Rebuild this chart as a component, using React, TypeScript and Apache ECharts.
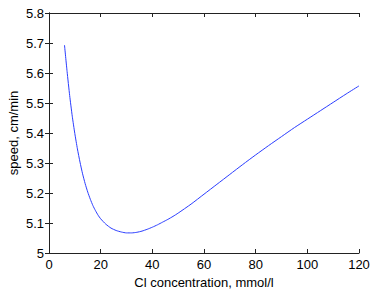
import React, { useEffect, useRef } from "react";
import * as echarts from "echarts";

const xValues = [6, 7, 8, 9, 10, 11, 12, 13, 14, 15, 16, 17, 18, 19, 20, 22, 24, 26, 28, 30, 32, 34, 36, 38, 40, 42, 44, 46, 48, 50, 55, 60, 65, 70, 75, 80, 85, 90, 95, 100, 105, 110, 115, 120];
const speedValues = [5.693, 5.605, 5.525, 5.456, 5.398, 5.347, 5.303, 5.264, 5.231, 5.203, 5.179, 5.158, 5.141, 5.126, 5.114, 5.096, 5.083, 5.075, 5.07, 5.067, 5.067, 5.069, 5.073, 5.079, 5.086, 5.094, 5.103, 5.112, 5.122, 5.133, 5.163, 5.196, 5.229, 5.262, 5.295, 5.327, 5.358, 5.388, 5.418, 5.446, 5.474, 5.502, 5.53, 5.557];
const xTitle = "Cl concentration, mmol/l";
const yTitle = "speed, cm/min";

const FONT = "Liberation Sans, Arial, Helvetica, sans-serif";
const AX = "#222";

export default function App() {
  const ref = useRef<HTMLDivElement>(null);
  useEffect(() => {
    if (!ref.current) return;
    const chart = echarts.init(ref.current, null, { renderer: "svg" });
    const tickCommon = {
      axisLine: { show: true, lineStyle: { color: AX, width: 1 } },
      axisTick: { show: true, inside: true, length: 4, lineStyle: { color: AX } },
      splitLine: { show: false },
    };
    chart.setOption({
      animation: false,
      backgroundColor: "#fff",
      grid: { left: 49, top: 13, right: 18, bottom: 38, containLabel: false, outerBoundsMode: "none" },
      xAxis: [
        {
          type: "value", min: 0, max: 120, interval: 20, position: "bottom",
          ...tickCommon,
          axisLabel: { color: "#000", fontSize: 13, fontFamily: FONT, margin: 5 },
          name: xTitle, nameLocation: "middle", nameGap: 23, nameMoveOverlap: false,
          nameTextStyle: { color: "#000", fontSize: 13, fontFamily: FONT },
        },
        {
          type: "value", min: 0, max: 120, interval: 20, position: "top",
          ...tickCommon, axisLabel: { show: false },
        },
      ],
      yAxis: [
        {
          type: "value", min: 5, max: 5.8, interval: 0.1, position: "left",
          ...tickCommon,
          axisLabel: {
            color: "#000", fontSize: 13, fontFamily: FONT, margin: 5,
            formatter: (v: number) => String(parseFloat(v.toFixed(1))),
          },
          name: yTitle, nameLocation: "middle", nameGap: 29, nameRotate: 90, nameMoveOverlap: false,
          nameTextStyle: { color: "#000", fontSize: 13, fontFamily: FONT },
        },
        {
          type: "value", min: 5, max: 5.8, interval: 0.1, position: "right",
          ...tickCommon, axisLabel: { show: false },
        },
      ],
      series: [
        {
          type: "line",
          data: xValues.map((x, i) => [x, speedValues[i]]),
          smooth: 0.2,
          showSymbol: false,
          lineStyle: { color: "#2a3dff", width: 1 },
          xAxisIndex: 0, yAxisIndex: 0,
        },
      ],
    });
    return () => chart.dispose();
  }, []);
  return <div ref={ref} style={{ width: 377, height: 291, position: "absolute", left: 0, top: 0 }} />;
}
